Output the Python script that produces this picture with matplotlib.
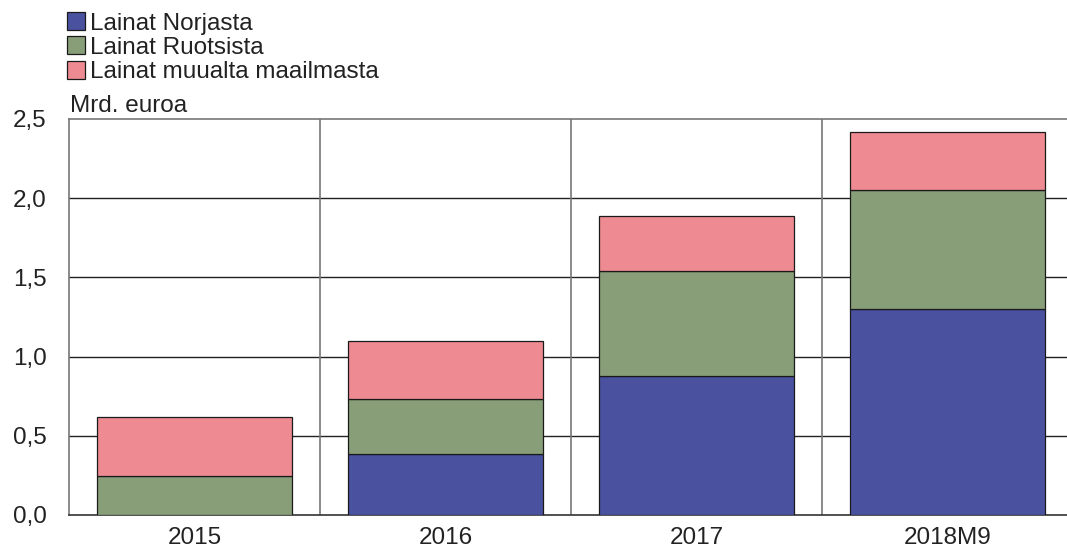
import numpy as np
import matplotlib
matplotlib.use("Agg")
import matplotlib.pyplot as plt

# Lainat (mrd. euroa) by source
categories = ["2015", "2016", "2017", "2018M9"]
norja = [0.0, 0.385, 0.88, 1.30]
ruotsi = [0.245, 0.345, 0.66, 0.75]
muut = [0.375, 0.37, 0.345, 0.37]
labels = ["Lainat Norjasta", "Lainat Ruotsista", "Lainat muualta maailmasta"]
colors = ["#4a52a0", "#879e78", "#ee8a91"]
yticks = [0.0, 0.5, 1.0, 1.5, 2.0, 2.5]

plt.rcParams['font.family'] = ['Liberation Sans', 'DejaVu Sans']
FS = 17.5

fig = plt.figure(figsize=(10.67, 5.55), dpi=100)
ax = fig.add_axes([69 / 1067, 40 / 555, 1004 / 1067, 396 / 555])

x = np.arange(len(categories))
bottom = np.zeros(len(categories))
handles = []
for vals, lab, col in zip([norja, ruotsi, muut], labels, colors):
    b = ax.bar(x, vals, width=0.78, bottom=bottom, color=col,
               edgecolor="#1a1a1a", linewidth=0.9, label=lab, zorder=3)
    handles.append(b)
    bottom += np.array(vals)

ax.set_xlim(-0.5, len(categories) - 0.5)
ax.set_ylim(0, 2.5)
ax.set_yticks(yticks)
ax.set_yticklabels([f"{v:.1f}".replace(".", ",") for v in yticks], fontsize=FS, color="#222222")
ax.set_xticks(x)
ax.set_xticklabels(categories, fontsize=FS, color="#222222")
ax.tick_params(length=0)
ax.tick_params(axis="x", pad=9)
ax.tick_params(axis="y", pad=16)

# grid: horizontal dark, vertical separators gray
for v in yticks[1:-1]:
    ax.axhline(v, color="#222222", linewidth=1.0, zorder=1)
for xs in np.arange(0.5, len(categories) - 0.5, 1.0):
    ax.axvline(xs, color="#777777", linewidth=1.2, zorder=1)

for s in ["top", "left", "bottom", "right"]:
    ax.spines[s].set_color("#777777")
    ax.spines[s].set_linewidth(1.2)
ax.spines["bottom"].set_color("#333333")

ax.text(0.001, 1.006, "Mrd. euroa", transform=ax.transAxes, fontsize=FS,
        color="#222222", ha="left", va="bottom")

fig.legend(handles=handles, labels=labels, loc="upper left",
           bbox_to_anchor=(55 / 1067, 1 - 0 / 555), frameon=False,
           fontsize=FS, handlelength=0.75, handleheight=0.75,
           handletextpad=0.2, labelspacing=0.08, borderpad=0,
           labelcolor="#222222")

fig.savefig("out.png", dpi=100)
